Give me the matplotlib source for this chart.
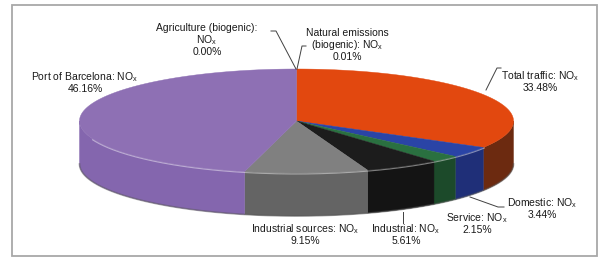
import numpy as np
import matplotlib
matplotlib.use("Agg")
import matplotlib.pyplot as plt
from matplotlib.patches import Polygon, Rectangle

plt.rcParams['font.family'] = ['Liberation Sans', 'DejaVu Sans']
plt.rcParams['mathtext.fontset'] = 'custom'
plt.rcParams['mathtext.rm'] = 'Liberation Sans'
plt.rcParams['mathtext.it'] = 'Liberation Sans'

# data, clockwise from 12 o'clock
names = ["Natural emissions\n(biogenic): NO$_\\mathrm{x}$",
         "Total traffic: NO$_\\mathrm{x}$",
         "Domestic: NO$_\\mathrm{x}$",
         "Service: NO$_\\mathrm{x}$",
         "Industrial: NO$_\\mathrm{x}$",
         "Industrial sources: NO$_\\mathrm{x}$",
         "Port of Barcelona: NO$_\\mathrm{x}$",
         "Agriculture (biogenic):\nNO$_\\mathrm{x}$"]
shares = [0.01, 33.48, 3.44, 2.15, 5.61, 9.15, 46.16, 0.00]
top_colors = ["#3a7d44", "#e2480f", "#2a44a6", "#2a7040", "#1c1c1c", "#808080", "#8e70b4", "#7f7f7f"]
side_colors = ["#1e4d2c", "#6c2a10", "#1f2f78", "#1c4a2a", "#141414", "#646464", "#8466ae", "#606060"]

# label layout (text center x, first line y) in pixels
label_pos = [(347, 33), (540, 76), (542, 203), (477, 218), (406, 229), (305, 229), (85, 77), (207, 28)]
line_h = 12

fig = plt.figure(figsize=(5.99, 2.59), dpi=100)
ax = fig.add_axes([0, 0, 1, 1])
ax.set_xlim(0, 599)
ax.set_ylim(259, 0)
ax.axis('off')

ax.add_patch(Rectangle((12, 5), 585, 251, fill=False, ec="#a8a8a8", lw=1.3))

cx, cy, a, b, depth = 296.5, 121, 217, 52, 43


def pt(theta):
    # theta in degrees, clockwise from top
    t = np.radians(theta)
    return cx + a * np.sin(t), cy - b * np.cos(t)


bounds = np.concatenate([[0], np.cumsum(shares)]) / np.sum(shares) * 360

# side walls (front half only)
for i in range(len(shares)):
    t0, t1 = max(bounds[i], 90), min(bounds[i + 1], 270)
    if t1 <= t0:
        continue
    th = np.linspace(t0, t1, 60)
    xs, ys = pt(th)
    verts = np.column_stack([np.concatenate([xs, xs[::-1]]),
                             np.concatenate([ys, ys[::-1] + depth])])
    ax.add_patch(Polygon(verts, closed=True, fc=side_colors[i], ec=side_colors[i], lw=0.3))

# soft bottom edge shadow
th = np.linspace(90, 270, 200)
xs, ys = pt(th)
ax.plot(xs, ys + depth, color="#555555", lw=1.2, alpha=0.5)

# top faces
for i in range(len(shares)):
    t0, t1 = bounds[i], bounds[i + 1]
    if t1 - t0 <= 0:
        continue
    th = np.linspace(t0, t1, max(int(t1 - t0) * 2, 4))
    xs, ys = pt(th)
    verts = np.column_stack([np.concatenate([[cx], xs]), np.concatenate([[cy], ys])])
    ax.add_patch(Polygon(verts, closed=True, fc=top_colors[i], ec=top_colors[i], lw=0.3))

# rim highlight
th = np.linspace(120, 250, 200)
xs, ys = pt(th)
ax.plot(xs, ys + 1, color="white", lw=0.8, alpha=0.45)

# labels
for i in range(len(shares)):
    x, y = label_pos[i]
    lines = names[i].split("\n") + [f"{shares[i]:.2f}%"]
    for k, s in enumerate(lines):
        ax.text(x, y + k * line_h, s, ha='center', va='center', fontsize=7.5, color="#1a1a1a")

# leader lines
leaders = [[(306, 46), (302, 46), (297, 69)],
           [(501, 68), (497, 68), (486, 90)],
           [(504, 207), (498, 207), (470, 197)],
           [(403, 212), (403, 223)],
           [(271, 31), (276, 31), (296, 69)]]
for ln in leaders:
    p = np.array(ln)
    ax.plot(p[:, 0], p[:, 1], color="#404040", lw=0.7)

fig.savefig("out.png", dpi=100)
